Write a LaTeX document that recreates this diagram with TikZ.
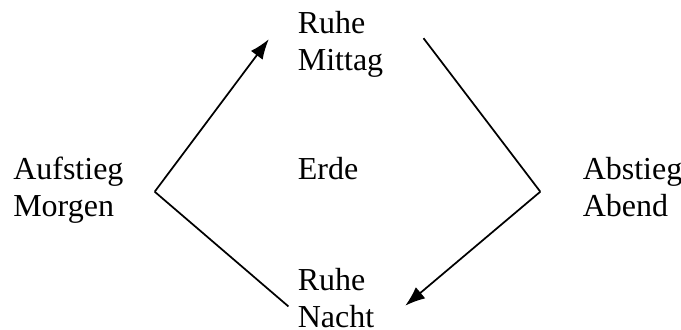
\documentclass[tikz,border=0pt]{standalone}
\usepackage{fontspec}
\setmainfont{Liberation Serif}
\usetikzlibrary{arrows.meta}

\begin{document}
\begin{tikzpicture}[x=0.75pt,y=-0.75pt]
    \tikzstyle{T}=[anchor=base west,inner sep=0pt,align=left,font=\fontsize{24pt}{27.4pt}\selectfont]
    \tikzstyle{P}=[line width=1.3pt]
    \useasboundingbox (0,0) rectangle (681,329);

    % Beschriftungen (base = letzte Zeile)
    \node [T] (mittag) at (297.6,70) {Ruhe\\Mittag};
    \node [T] (erde)   at (297.6,179.4) {Erde};
    \node [T] (morgen) at (13,216) {Aufstieg\\Morgen};
    \node [T] (abend)  at (582.5,216) {Abstieg\\Abend};
    \node [T] (nacht)  at (297.6,327.3) {Ruhe\\Nacht};

    % Ecken
    \coordinate (lv) at (154.7,191.7);
    \coordinate (rv) at (540.3,191.7);
    \coordinate (ro) at (268.8,39.2);
    \coordinate (lo) at (423.5,38.2);
    \coordinate (ru) at (405.2,305.7);
    \coordinate (lu) at (288.4,306.4);

    \draw [P,-{Latex[length=15pt,width=11pt]}] (lv) -- (ro);
    \draw [P] (lo) -- (rv);
    \draw [P,-{Latex[length=15pt,width=11pt]}] (rv) -- (ru);
    \draw [P] (lv) -- (lu);
\end{tikzpicture}
\end{document}
